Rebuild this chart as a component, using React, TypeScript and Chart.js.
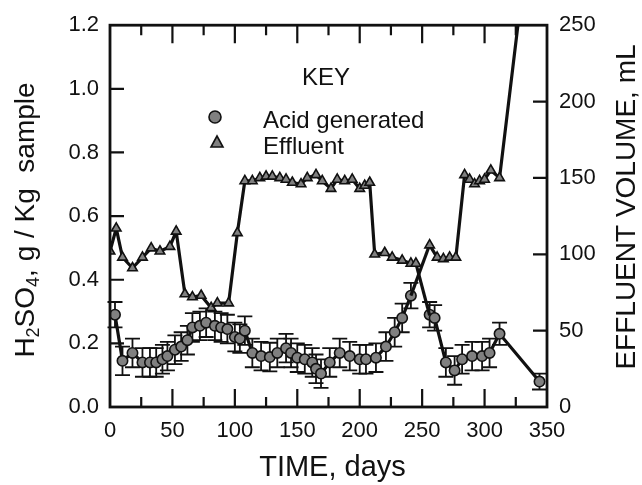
import React, { useEffect, useRef } from 'react';
import { Chart, registerables } from 'chart.js';

Chart.register(...registerables);

// ---------- data ----------
const acidDays = [4, 10, 18, 26, 32, 37, 42, 46, 52, 57, 62, 66, 72, 77, 84, 89, 94, 100, 104, 108, 114, 121, 128, 134, 141, 145, 150, 156, 162, 165, 169, 176, 184, 192, 200, 205, 213, 221, 228, 234, 241, 256, 260, 269, 276, 282, 290, 298, 304, 312, 344];
const acidValues = [0.29, 0.145, 0.17, 0.14, 0.14, 0.14, 0.15, 0.16, 0.18, 0.19, 0.21, 0.25, 0.255, 0.265, 0.255, 0.25, 0.245, 0.22, 0.215, 0.24, 0.17, 0.16, 0.157, 0.17, 0.185, 0.17, 0.155, 0.15, 0.14, 0.12, 0.105, 0.14, 0.17, 0.16, 0.15, 0.15, 0.155, 0.19, 0.235, 0.28, 0.35, 0.29, 0.28, 0.14, 0.115, 0.15, 0.16, 0.16, 0.17, 0.23, 0.08];
const acidErrors = [0.04, 0.045, 0.045, 0.045, 0.045, 0.045, 0.045, 0.045, 0.045, 0.045, 0.045, 0.045, 0.045, 0.045, 0.045, 0.045, 0.045, 0.045, 0.045, 0.045, 0.045, 0.045, 0.045, 0.045, 0.045, 0.045, 0.045, 0.045, 0.045, 0.045, 0.045, 0.045, 0.045, 0.045, 0.045, 0.045, 0.045, 0.045, 0.045, 0.045, 0.04, 0.04, 0.04, 0.045, 0.045, 0.045, 0.045, 0.045, 0.045, 0.035, 0.025];

const effluentDays = [0, 5, 10, 18, 26, 33, 40, 48, 53, 60, 66, 73, 81, 86, 95, 102, 108, 114, 120, 125, 130, 136, 141, 146, 153, 158, 165, 170, 177, 182, 188, 194, 200, 204, 208, 212, 220, 226, 234, 241, 245, 256, 262, 267, 272, 277, 284, 288, 292, 296, 300, 305, 312, 327];
const effluentValues = [102, 117, 98, 91, 98, 104, 102, 105, 115, 74, 72, 73, 65, 68, 68, 114, 148, 148, 150, 151, 151, 150, 149, 147, 146, 150, 152, 148, 143, 149, 148, 149, 143, 145, 147, 100, 101, 98, 96, 94, 94, 106, 98, 97, 98, 98, 152, 149, 146, 148, 149, 155, 150, 252];

// the two traces cross over between these days
const acidBreakAfterDay = 241;
const effluentBreakAfterDay = 245;
const acidLinkDays = [241, 256];
const acidLinkValues = [0.35, 0.51];
const effluentLinkDays = [245, 256];
const effluentLinkValues = [94, 60];

const xTickValues = [0, 50, 100, 150, 200, 250, 300, 350];
const leftTickValues = [0, 0.2, 0.4, 0.6, 0.8, 1.0, 1.2];
const rightTickValues = [0, 50, 100, 150, 200, 250];

const xTitle = 'TIME, days';
const rightTitle = 'EFFLUENT VOLUME, mL';
const legendTitle = 'KEY';
const acidLabel = 'Acid generated';
const effluentLabel = 'Effluent';

const FONT = '"Liberation Sans", Arial, Helvetica, sans-serif';
const MARKER_FILL = '#808080';
const INK = '#111111';

const decorPlugin = {
  id: 'decor',
  beforeDatasetsDraw(chart: any) {
    const { ctx } = chart;
    const xs = chart.scales.x;
    const ys = chart.scales.y;
    ctx.save();
    ctx.strokeStyle = INK;
    ctx.lineWidth = 1.8;
    acidDays.forEach((d, i) => {
      const x = xs.getPixelForValue(d);
      const yT = ys.getPixelForValue(acidValues[i] + acidErrors[i]);
      const yB = ys.getPixelForValue(acidValues[i] - acidErrors[i]);
      ctx.beginPath();
      ctx.moveTo(x, yT);
      ctx.lineTo(x, yB);
      ctx.moveTo(x - 7.5, yT);
      ctx.lineTo(x + 7.5, yT);
      ctx.moveTo(x - 7.5, yB);
      ctx.lineTo(x + 7.5, yB);
      ctx.stroke();
    });
    ctx.restore();
  },
  afterDraw(chart: any) {
    const { ctx, chartArea } = chart;
    const { left, right, top, bottom } = chartArea;
    const xs = chart.scales.x;
    const ys = chart.scales.y;
    const y1 = chart.scales.y1;
    ctx.save();
    ctx.strokeStyle = INK;
    ctx.lineWidth = 2.8;
    ctx.strokeRect(left, top, right - left, bottom - top);

    // inward tick marks
    ctx.lineWidth = 2.2;
    ctx.beginPath();
    for (let i = 1; i < xTickValues.length - 1; i++) {
      const x = xs.getPixelForValue(xTickValues[i]);
      ctx.moveTo(x, top); ctx.lineTo(x, top + 18);
      ctx.moveTo(x, bottom); ctx.lineTo(x, bottom - 18);
    }
    for (let i = 0; i < xTickValues.length - 1; i++) {
      const x = xs.getPixelForValue((xTickValues[i] + xTickValues[i + 1]) / 2);
      ctx.moveTo(x, top); ctx.lineTo(x, top + 10);
      ctx.moveTo(x, bottom); ctx.lineTo(x, bottom - 10);
    }
    for (let i = 1; i < leftTickValues.length - 1; i++) {
      const y = ys.getPixelForValue(leftTickValues[i]);
      ctx.moveTo(left, y); ctx.lineTo(left + 14, y);
    }
    for (let i = 1; i < rightTickValues.length - 1; i++) {
      const y = y1.getPixelForValue(rightTickValues[i]);
      ctx.moveTo(right, y); ctx.lineTo(right - 14, y);
    }
    ctx.stroke();

    ctx.fillStyle = INK;
    // bottom title
    ctx.font = `29px ${FONT}`;
    ctx.textAlign = 'center';
    ctx.textBaseline = 'alphabetic';
    ctx.fillText(xTitle, (left + right) / 2 + 4, 476);

    // right title
    ctx.save();
    ctx.translate(635, 207);
    ctx.rotate(-Math.PI / 2);
    ctx.font = `28px ${FONT}`;
    ctx.textAlign = 'center';
    ctx.fillText(rightTitle, 0, 0);
    ctx.restore();

    // left title with subscripts
    ctx.save();
    ctx.translate(34, 220);
    ctx.rotate(-Math.PI / 2);
    const parts: [string, boolean][] = [['H', false], ['2', true], ['SO', false], ['4', true], [', g / Kg  sample', false]];
    const big = `28px ${FONT}`;
    const small = `18px ${FONT}`;
    let total = 0;
    parts.forEach(([t, sub]) => { ctx.font = sub ? small : big; total += ctx.measureText(t).width; });
    let cx = -total / 2;
    ctx.textAlign = 'left';
    parts.forEach(([t, sub]) => {
      ctx.font = sub ? small : big;
      ctx.fillText(t, cx, sub ? 5 : 0);
      cx += ctx.measureText(t).width;
    });
    ctx.restore();

    // legend (KEY)
    ctx.font = `24px ${FONT}`;
    ctx.textAlign = 'left';
    ctx.fillText(legendTitle, 302, 85);
    ctx.fillText(acidLabel, 263, 128);
    ctx.fillText(effluentLabel, 263, 154);
    ctx.fillStyle = MARKER_FILL;
    ctx.lineWidth = 1.6;
    ctx.beginPath();
    ctx.arc(215, 117, 6, 0, Math.PI * 2);
    ctx.fill(); ctx.stroke();
    ctx.beginPath();
    ctx.moveTo(217, 136);
    ctx.lineTo(223, 147);
    ctx.lineTo(211, 147);
    ctx.closePath();
    ctx.fill(); ctx.stroke();
    ctx.restore();
  },
};

export default function App() {
  const ref = useRef<HTMLCanvasElement | null>(null);
  useEffect(() => {
    if (!ref.current) return;
    const acidPoints = acidDays.map((d, i) => ({ x: d, y: acidValues[i] }));
    const effluentPoints = effluentDays.map((d, i) => ({ x: d, y: effluentValues[i] }));
    const acidLink = acidLinkDays.map((d, i) => ({ x: d, y: acidLinkValues[i] }));
    const effluentLink = effluentLinkDays.map((d, i) => ({ x: d, y: effluentLinkValues[i] }));
    const tickFont = { family: FONT, size: 22 };

    const chart = new Chart(ref.current, {
      type: 'line',
      data: {
        datasets: [
          {
            label: effluentLabel,
            data: effluentPoints,
            yAxisID: 'y1',
            borderColor: INK,
            borderWidth: 3.2,
            pointStyle: 'triangle',
            pointRadius: (c: any) => (c.raw && c.raw.y > 250 ? 0 : 5.5),
            pointBackgroundColor: MARKER_FILL,
            pointBorderColor: INK,
            pointBorderWidth: 1.6,
            segment: {
              borderColor: (c: any) => (c.p0.parsed.x === effluentBreakAfterDay ? 'rgba(0,0,0,0)' : INK),
            },
          },
          {
            label: 'effluent-link',
            data: effluentLink,
            yAxisID: 'y1',
            borderColor: INK,
            borderWidth: 3.2,
            pointRadius: 0,
          },
          {
            label: 'acid-link',
            data: acidLink,
            yAxisID: 'y',
            borderColor: INK,
            borderWidth: 3.2,
            pointRadius: 0,
          },
          {
            label: acidLabel,
            data: acidPoints,
            yAxisID: 'y',
            borderColor: INK,
            borderWidth: 3.2,
            pointStyle: 'circle',
            pointRadius: 5.2,
            pointBackgroundColor: MARKER_FILL,
            pointBorderColor: INK,
            pointBorderWidth: 1.6,
            segment: {
              borderColor: (c: any) => (c.p0.parsed.x === acidBreakAfterDay ? 'rgba(0,0,0,0)' : INK),
            },
          },
        ],
      },
      options: {
        animation: false,
        responsive: false,
        devicePixelRatio: 1,
        layout: { padding: { top: 23, left: 0, right: 0, bottom: 0 } },
        plugins: { legend: { display: false }, tooltip: { enabled: false } },
        elements: { line: { tension: 0 } },
        scales: {
          x: {
            type: 'linear',
            position: 'bottom',
            min: 0,
            max: 350,
            afterBuildTicks: (s: any) => { s.ticks = xTickValues.map((v) => ({ value: v })); },
            ticks: { font: tickFont, color: INK, padding: 11, maxRotation: 0, autoSkip: false },
            grid: { display: false, drawTicks: false },
            border: { display: false },
            afterFit: (s: any) => { s.height = 78; },
          },
          y: {
            type: 'linear',
            position: 'left',
            min: 0,
            max: 1.2,
            afterBuildTicks: (s: any) => { s.ticks = leftTickValues.map((v) => ({ value: v })); },
            ticks: { font: tickFont, color: INK, padding: 11, callback: (v: any) => Number(v).toFixed(1) },
            grid: { display: false, drawTicks: false },
            border: { display: false },
            afterFit: (s: any) => { s.width = 110; },
          },
          y1: {
            type: 'linear',
            position: 'right',
            min: 0,
            max: 250,
            afterBuildTicks: (s: any) => { s.ticks = rightTickValues.map((v) => ({ value: v })); },
            ticks: { font: tickFont, color: INK, padding: 12, callback: (v: any) => String(v) },
            grid: { display: false, drawTicks: false },
            border: { display: false },
            afterFit: (s: any) => { s.width = 95; },
          },
        },
      },
      plugins: [decorPlugin],
    } as any);
    return () => chart.destroy();
  }, []);

  return (
    <div style={{ position: 'fixed', left: 0, top: 0, width: 642, height: 485, background: '#ffffff' }}>
      <canvas ref={ref} width={642} height={485} style={{ display: 'block' }} />
    </div>
  );
}
